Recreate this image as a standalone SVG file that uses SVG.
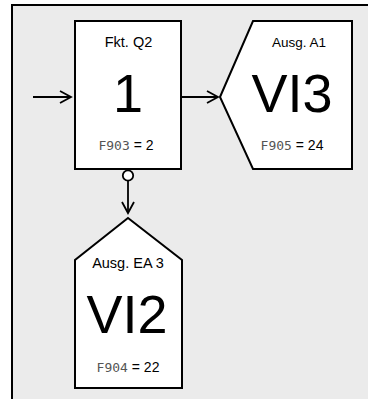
<svg xmlns="http://www.w3.org/2000/svg" width="368" height="399" viewBox="0 0 368 399">
<style>
.node{fill:#fff;stroke:#000;stroke-width:2}
.lbl{font-family:"Liberation Sans",Arial,sans-serif;font-size:14px;fill:#000;text-anchor:middle}
.big{font-family:"Liberation Sans",Arial,sans-serif;font-size:54px;fill:#000;text-anchor:middle}
.seg{font-family:"DejaVu Sans Mono","Liberation Mono",monospace;font-size:13px;fill:#555}
.val{font-family:"Liberation Sans",Arial,sans-serif;font-size:14px;fill:#000}
.con{fill:none;stroke:#000;stroke-width:1.8}
</style>
<defs>
<marker id="arr" markerWidth="14" markerHeight="14" refX="12" refY="7" orient="auto" markerUnits="userSpaceOnUse">
<path d="M1,1 L12,7 L1,13" fill="none" stroke="#000" stroke-width="1.8"/>
</marker>
</defs>
<rect x="0" y="0" width="368" height="399" fill="#fff"/>
<rect x="12" y="5" width="380" height="420" fill="#ebebeb" stroke="#000" stroke-width="2"/>
<g id="connectors">
<line class="con" x1="33" y1="97" x2="71" y2="97" marker-end="url(#arr)"/>
<line class="con" x1="181" y1="97" x2="218" y2="97" marker-end="url(#arr)"/>
<circle cx="128" cy="175.5" r="5.2" fill="#fff" stroke="#000" stroke-width="1.8"/>
<line class="con" x1="128" y1="181" x2="128" y2="213" marker-end="url(#arr)"/>
</g>
<g id="fkt-q2">
<rect class="node" x="75" y="21" width="106" height="148"/>
<text class="lbl" x="128.5" y="47" style="font-size:14.5px">Fkt. Q2</text>
<text class="big" x="128" y="112">1</text>
<text x="126" y="150" text-anchor="middle"><tspan class="seg">F903</tspan><tspan class="val"> = 2</tspan></text>
</g>
<g id="ausg-a1">
<polygon class="node" points="220,97 253,21 352,21 352,169 253,169"/>
<text class="lbl" x="299" y="47" style="font-size:13.5px">Ausg. A1</text>
<text class="big" x="292" y="112">VI3</text>
<text x="292" y="150" text-anchor="middle"><tspan class="seg">F905</tspan><tspan class="val"> = 24</tspan></text>
</g>
<g id="ausg-ea3">
<polygon class="node" points="128,218 182,260 182,388 75,388 75,260"/>
<text class="lbl" x="128" y="268" style="font-size:14.5px">Ausg. EA 3</text>
<text class="big" x="127" y="333">VI2</text>
<text x="128" y="372" text-anchor="middle"><tspan class="seg">F904</tspan><tspan class="val"> = 22</tspan></text>
</g>
</svg>
